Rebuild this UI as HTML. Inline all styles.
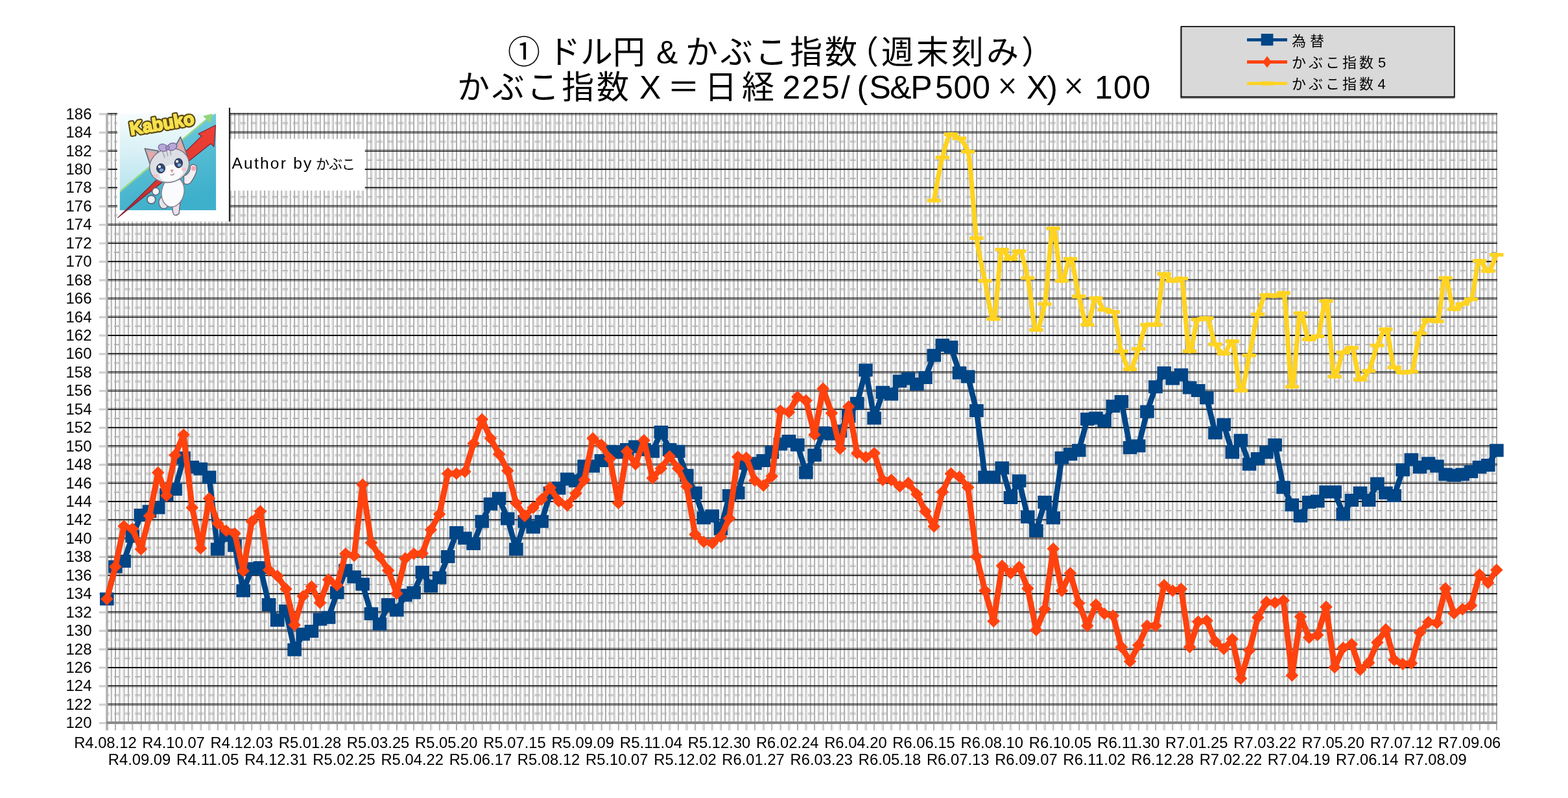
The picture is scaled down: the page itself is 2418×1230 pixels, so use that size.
<!DOCTYPE html>
<html lang="ja"><head><meta charset="utf-8"><title>ドル円 &amp; かぶこ指数</title>
<style>
html,body{margin:0;padding:0;background:#fff}
body{width:2418px;height:1230px;overflow:hidden;font-family:"Liberation Sans","Noto Sans CJK JP",sans-serif}
svg{display:block;position:absolute;left:0;top:0}
text{font-family:"Liberation Sans","Noto Sans CJK JP",sans-serif;fill:#000}
.ax{font-size:24px;fill:#1c1c1c}
.tt{font-size:50px}
.lg{font-size:22px}
</style></head><body>
<svg width="2418" height="1230" viewBox="0 0 2418 1230">
<rect width="2418" height="1230" fill="#fff"/>
<defs><filter id="soft" x="0" y="0" width="100%" height="100%" filterUnits="userSpaceOnUse" color-interpolation-filters="sRGB"><feGaussianBlur stdDeviation="0.45"/></filter></defs>
<g id="all" filter="url(#soft)">
<g id="grid">
<path d="M196 174V1113.7M226 174V1113.7M242 174V1113.7M272 174V1113.7M288 174V1113.7M318 174V1113.7M334 174V1113.7M364 174V1113.7M380 174V1113.7M410 174V1113.7M426 174V1113.7M456 174V1113.7M502 174V1113.7M548 174V1113.7M594 174V1113.7M640 174V1113.7M676 174V1113.7M686 174V1113.7M722 174V1113.7M768 174V1113.7M814 174V1113.7M860 174V1113.7M906 174V1113.7M952 174V1113.7M982 174V1113.7M998 174V1113.7M1028 174V1113.7M1044 174V1113.7M1074 174V1113.7M1090 174V1113.7M1120 174V1113.7M1136 174V1113.7M1166 174V1113.7M1212 174V1113.7M1258 174V1113.7M1304 174V1113.7M1350 174V1113.7M1386 174V1113.7M1396 174V1113.7M1432 174V1113.7M1442 174V1113.7M1478 174V1113.7M1524 174V1113.7M1570 174V1113.7M1616 174V1113.7M1662 174V1113.7M1692 174V1113.7M1708 174V1113.7M1738 174V1113.7M1754 174V1113.7M1784 174V1113.7M1800 174V1113.7M1830 174V1113.7M1846 174V1113.7M1876 174V1113.7M1922 174V1113.7M1968 174V1113.7M2014 174V1113.7M2060 174V1113.7M2106 174V1113.7M2142 174V1113.7M2152 174V1113.7M2188 174V1113.7M2234 174V1113.7M2280 174V1113.7" stroke="#a9a9a9" stroke-opacity="0.1" stroke-width="2" fill="none"/>
<path d="M170 174V1113.7M206 174V1113.7M216 174V1113.7M252 174V1113.7M262 174V1113.7M298 174V1113.7M308 174V1113.7M344 174V1113.7M354 174V1113.7M390 174V1113.7M400 174V1113.7M436 174V1113.7M446 174V1113.7M482 174V1113.7M492 174V1113.7M538 174V1113.7M584 174V1113.7M630 174V1113.7M732 174V1113.7M778 174V1113.7M824 174V1113.7M870 174V1113.7M880 174V1113.7M916 174V1113.7M926 174V1113.7M962 174V1113.7M972 174V1113.7M1008 174V1113.7M1018 174V1113.7M1054 174V1113.7M1064 174V1113.7M1100 174V1113.7M1110 174V1113.7M1146 174V1113.7M1156 174V1113.7M1192 174V1113.7M1202 174V1113.7M1248 174V1113.7M1294 174V1113.7M1340 174V1113.7M1488 174V1113.7M1534 174V1113.7M1580 174V1113.7M1626 174V1113.7M1636 174V1113.7M1672 174V1113.7M1682 174V1113.7M1718 174V1113.7M1728 174V1113.7M1764 174V1113.7M1774 174V1113.7M1810 174V1113.7M1820 174V1113.7M1856 174V1113.7M1866 174V1113.7M1902 174V1113.7M1912 174V1113.7M1948 174V1113.7M1958 174V1113.7M2004 174V1113.7M2050 174V1113.7M2096 174V1113.7M2198 174V1113.7M2244 174V1113.7M2290 174V1113.7" stroke="#a9a9a9" stroke-opacity="0.2" stroke-width="2" fill="none"/>
<path d="M186 174V1113.7M232 174V1113.7M278 174V1113.7M374 174V1113.7M420 174V1113.7M466 174V1113.7M512 174V1113.7M528 174V1113.7M558 174V1113.7M574 174V1113.7M604 174V1113.7M620 174V1113.7M650 174V1113.7M666 174V1113.7M696 174V1113.7M712 174V1113.7M742 174V1113.7M758 174V1113.7M788 174V1113.7M804 174V1113.7M834 174V1113.7M850 174V1113.7M896 174V1113.7M942 174V1113.7M988 174V1113.7M1130 174V1113.7M1176 174V1113.7M1222 174V1113.7M1238 174V1113.7M1268 174V1113.7M1284 174V1113.7M1314 174V1113.7M1330 174V1113.7M1360 174V1113.7M1376 174V1113.7M1406 174V1113.7M1422 174V1113.7M1452 174V1113.7M1468 174V1113.7M1498 174V1113.7M1514 174V1113.7M1544 174V1113.7M1560 174V1113.7M1590 174V1113.7M1606 174V1113.7M1652 174V1113.7M1698 174V1113.7M1840 174V1113.7M1886 174V1113.7M1932 174V1113.7M1978 174V1113.7M1994 174V1113.7M2024 174V1113.7M2040 174V1113.7M2070 174V1113.7M2086 174V1113.7M2116 174V1113.7M2132 174V1113.7M2162 174V1113.7M2178 174V1113.7M2208 174V1113.7M2224 174V1113.7M2254 174V1113.7M2270 174V1113.7M2300 174V1113.7" stroke="#a9a9a9" stroke-opacity="0.3" stroke-width="2" fill="none"/>
<path d="M190 174V1113.7M236 174V1113.7M282 174V1113.7M324 174V1113.7M328 174V1113.7M370 174V1113.7M416 174V1113.7M462 174V1113.7M508 174V1113.7M554 174V1113.7M578 174V1113.7M600 174V1113.7M624 174V1113.7M646 174V1113.7M670 174V1113.7M692 174V1113.7M716 174V1113.7M738 174V1113.7M762 174V1113.7M784 174V1113.7M808 174V1113.7M854 174V1113.7M900 174V1113.7M946 174V1113.7M992 174V1113.7M1034 174V1113.7M1038 174V1113.7M1080 174V1113.7M1084 174V1113.7M1126 174V1113.7M1172 174V1113.7M1218 174V1113.7M1264 174V1113.7M1310 174V1113.7M1334 174V1113.7M1356 174V1113.7M1380 174V1113.7M1402 174V1113.7M1426 174V1113.7M1448 174V1113.7M1472 174V1113.7M1494 174V1113.7M1518 174V1113.7M1564 174V1113.7M1610 174V1113.7M1656 174V1113.7M1702 174V1113.7M1744 174V1113.7M1748 174V1113.7M1790 174V1113.7M1794 174V1113.7M1836 174V1113.7M1882 174V1113.7M1928 174V1113.7M1974 174V1113.7M2020 174V1113.7M2044 174V1113.7M2066 174V1113.7M2090 174V1113.7M2112 174V1113.7M2136 174V1113.7M2158 174V1113.7M2182 174V1113.7M2204 174V1113.7M2228 174V1113.7M2250 174V1113.7M2274 174V1113.7" stroke="#a9a9a9" stroke-opacity="0.4" stroke-width="2" fill="none"/>
<path d="M164 174V1113.7M166 174V1113.7M210 174V1113.7M212 174V1113.7M256 174V1113.7M258 174V1113.7M302 174V1113.7M304 174V1113.7M348 174V1113.7M350 174V1113.7M394 174V1113.7M396 174V1113.7M440 174V1113.7M442 174V1113.7M486 174V1113.7M488 174V1113.7M532 174V1113.7M534 174V1113.7M828 174V1113.7M830 174V1113.7M874 174V1113.7M876 174V1113.7M920 174V1113.7M922 174V1113.7M966 174V1113.7M968 174V1113.7M1012 174V1113.7M1014 174V1113.7M1058 174V1113.7M1060 174V1113.7M1104 174V1113.7M1106 174V1113.7M1150 174V1113.7M1152 174V1113.7M1196 174V1113.7M1198 174V1113.7M1242 174V1113.7M1244 174V1113.7M1288 174V1113.7M1290 174V1113.7M1538 174V1113.7M1540 174V1113.7M1584 174V1113.7M1586 174V1113.7M1630 174V1113.7M1632 174V1113.7M1676 174V1113.7M1678 174V1113.7M1722 174V1113.7M1724 174V1113.7M1768 174V1113.7M1770 174V1113.7M1814 174V1113.7M1816 174V1113.7M1860 174V1113.7M1862 174V1113.7M1906 174V1113.7M1908 174V1113.7M1952 174V1113.7M1954 174V1113.7M1998 174V1113.7M2000 174V1113.7M2294 174V1113.7M2296 174V1113.7" stroke="#a9a9a9" stroke-opacity="0.5" stroke-width="2" fill="none"/>
<path d="M192 174V1113.7M238 174V1113.7M284 174V1113.7M322 174V1113.7M330 174V1113.7M368 174V1113.7M414 174V1113.7M460 174V1113.7M506 174V1113.7M552 174V1113.7M580 174V1113.7M598 174V1113.7M626 174V1113.7M644 174V1113.7M672 174V1113.7M690 174V1113.7M718 174V1113.7M736 174V1113.7M764 174V1113.7M782 174V1113.7M810 174V1113.7M856 174V1113.7M902 174V1113.7M948 174V1113.7M994 174V1113.7M1032 174V1113.7M1040 174V1113.7M1078 174V1113.7M1086 174V1113.7M1124 174V1113.7M1170 174V1113.7M1216 174V1113.7M1262 174V1113.7M1308 174V1113.7M1336 174V1113.7M1354 174V1113.7M1382 174V1113.7M1400 174V1113.7M1428 174V1113.7M1446 174V1113.7M1474 174V1113.7M1492 174V1113.7M1520 174V1113.7M1566 174V1113.7M1612 174V1113.7M1658 174V1113.7M1704 174V1113.7M1742 174V1113.7M1750 174V1113.7M1788 174V1113.7M1796 174V1113.7M1834 174V1113.7M1880 174V1113.7M1926 174V1113.7M1972 174V1113.7M2018 174V1113.7M2046 174V1113.7M2064 174V1113.7M2092 174V1113.7M2110 174V1113.7M2138 174V1113.7M2156 174V1113.7M2184 174V1113.7M2202 174V1113.7M2230 174V1113.7M2248 174V1113.7M2276 174V1113.7" stroke="#a9a9a9" stroke-opacity="0.6" stroke-width="2" fill="none"/>
<path d="M184 174V1113.7M230 174V1113.7M276 174V1113.7M376 174V1113.7M422 174V1113.7M468 174V1113.7M514 174V1113.7M526 174V1113.7M560 174V1113.7M572 174V1113.7M606 174V1113.7M618 174V1113.7M652 174V1113.7M664 174V1113.7M698 174V1113.7M710 174V1113.7M744 174V1113.7M756 174V1113.7M790 174V1113.7M802 174V1113.7M836 174V1113.7M848 174V1113.7M894 174V1113.7M940 174V1113.7M986 174V1113.7M1132 174V1113.7M1178 174V1113.7M1224 174V1113.7M1236 174V1113.7M1270 174V1113.7M1282 174V1113.7M1316 174V1113.7M1328 174V1113.7M1362 174V1113.7M1374 174V1113.7M1408 174V1113.7M1420 174V1113.7M1454 174V1113.7M1466 174V1113.7M1500 174V1113.7M1512 174V1113.7M1546 174V1113.7M1558 174V1113.7M1592 174V1113.7M1604 174V1113.7M1650 174V1113.7M1696 174V1113.7M1842 174V1113.7M1888 174V1113.7M1934 174V1113.7M1980 174V1113.7M1992 174V1113.7M2026 174V1113.7M2038 174V1113.7M2072 174V1113.7M2084 174V1113.7M2118 174V1113.7M2130 174V1113.7M2164 174V1113.7M2176 174V1113.7M2210 174V1113.7M2222 174V1113.7M2256 174V1113.7M2268 174V1113.7M2302 174V1113.7" stroke="#a9a9a9" stroke-opacity="0.7" stroke-width="2" fill="none"/>
<path d="M172 174V1113.7M204 174V1113.7M218 174V1113.7M250 174V1113.7M264 174V1113.7M296 174V1113.7M310 174V1113.7M342 174V1113.7M356 174V1113.7M388 174V1113.7M402 174V1113.7M434 174V1113.7M448 174V1113.7M480 174V1113.7M494 174V1113.7M540 174V1113.7M586 174V1113.7M632 174V1113.7M730 174V1113.7M776 174V1113.7M822 174V1113.7M868 174V1113.7M882 174V1113.7M914 174V1113.7M928 174V1113.7M960 174V1113.7M974 174V1113.7M1006 174V1113.7M1020 174V1113.7M1052 174V1113.7M1066 174V1113.7M1098 174V1113.7M1112 174V1113.7M1144 174V1113.7M1158 174V1113.7M1190 174V1113.7M1204 174V1113.7M1250 174V1113.7M1296 174V1113.7M1342 174V1113.7M1486 174V1113.7M1532 174V1113.7M1578 174V1113.7M1624 174V1113.7M1638 174V1113.7M1670 174V1113.7M1684 174V1113.7M1716 174V1113.7M1730 174V1113.7M1762 174V1113.7M1776 174V1113.7M1808 174V1113.7M1822 174V1113.7M1854 174V1113.7M1868 174V1113.7M1900 174V1113.7M1914 174V1113.7M1946 174V1113.7M1960 174V1113.7M2006 174V1113.7M2052 174V1113.7M2098 174V1113.7M2196 174V1113.7M2242 174V1113.7M2288 174V1113.7" stroke="#a9a9a9" stroke-opacity="0.8" stroke-width="2" fill="none"/>
<path d="M198 174V1113.7M224 174V1113.7M244 174V1113.7M270 174V1113.7M290 174V1113.7M316 174V1113.7M336 174V1113.7M362 174V1113.7M382 174V1113.7M408 174V1113.7M428 174V1113.7M454 174V1113.7M500 174V1113.7M546 174V1113.7M592 174V1113.7M638 174V1113.7M678 174V1113.7M684 174V1113.7M724 174V1113.7M770 174V1113.7M816 174V1113.7M862 174V1113.7M908 174V1113.7M954 174V1113.7M980 174V1113.7M1000 174V1113.7M1026 174V1113.7M1046 174V1113.7M1072 174V1113.7M1092 174V1113.7M1118 174V1113.7M1138 174V1113.7M1164 174V1113.7M1210 174V1113.7M1256 174V1113.7M1302 174V1113.7M1348 174V1113.7M1388 174V1113.7M1394 174V1113.7M1434 174V1113.7M1440 174V1113.7M1480 174V1113.7M1526 174V1113.7M1572 174V1113.7M1618 174V1113.7M1664 174V1113.7M1690 174V1113.7M1710 174V1113.7M1736 174V1113.7M1756 174V1113.7M1782 174V1113.7M1802 174V1113.7M1828 174V1113.7M1848 174V1113.7M1874 174V1113.7M1920 174V1113.7M1966 174V1113.7M2012 174V1113.7M2058 174V1113.7M2104 174V1113.7M2144 174V1113.7M2150 174V1113.7M2190 174V1113.7M2236 174V1113.7M2282 174V1113.7" stroke="#a9a9a9" stroke-opacity="0.9" stroke-width="2" fill="none"/>
<path d="M178 174V1113.7M474 174V1113.7M520 174V1113.7M566 174V1113.7M612 174V1113.7M658 174V1113.7M704 174V1113.7M750 174V1113.7M796 174V1113.7M842 174V1113.7M888 174V1113.7M934 174V1113.7M1184 174V1113.7M1230 174V1113.7M1276 174V1113.7M1322 174V1113.7M1368 174V1113.7M1414 174V1113.7M1460 174V1113.7M1506 174V1113.7M1552 174V1113.7M1598 174V1113.7M1644 174V1113.7M1894 174V1113.7M1940 174V1113.7M1986 174V1113.7M2032 174V1113.7M2078 174V1113.7M2124 174V1113.7M2170 174V1113.7M2216 174V1113.7M2262 174V1113.7M2308 174V1113.7" stroke="#a9a9a9" stroke-opacity="1.0" stroke-width="2" fill="none"/>
<path d="M164.8 1045H2307.9M164.8 789H2307.9M164.8 533H2307.9M164.8 277H2307.9" stroke="#b0b0b0" stroke-opacity="0.1" stroke-width="2" stroke-dasharray="9 7.215" stroke-dashoffset="5.3" fill="none"/>
<path d="M164.8 1013H2307.9M164.8 931H2307.9M164.8 757H2307.9M164.8 675H2307.9M164.8 501H2307.9M164.8 419H2307.9M164.8 245H2307.9" stroke="#b0b0b0" stroke-opacity="0.2" stroke-width="2" stroke-dasharray="9 7.215" stroke-dashoffset="5.3" fill="none"/>
<path d="M164.8 1073H2307.9M164.8 871H2307.9M164.8 817H2307.9M164.8 615H2307.9M164.8 561H2307.9M164.8 359H2307.9M164.8 305H2307.9" stroke="#b0b0b0" stroke-opacity="0.3" stroke-width="2" stroke-dasharray="9 7.215" stroke-dashoffset="5.3" fill="none"/>
<path d="M164.8 985H2307.9M164.8 959H2307.9M164.8 729H2307.9M164.8 703H2307.9M164.8 473H2307.9M164.8 447H2307.9M164.8 217H2307.9M164.8 191H2307.9" stroke="#b0b0b0" stroke-opacity="0.4" stroke-width="2" stroke-dasharray="9 7.215" stroke-dashoffset="5.3" fill="none"/>
<path d="M164.8 1099H2307.9M164.8 1101H2307.9M164.8 843H2307.9M164.8 845H2307.9M164.8 587H2307.9M164.8 589H2307.9M164.8 331H2307.9M164.8 333H2307.9" stroke="#b0b0b0" stroke-opacity="0.5" stroke-width="2" stroke-dasharray="9 7.215" stroke-dashoffset="5.3" fill="none"/>
<path d="M164.8 987H2307.9M164.8 957H2307.9M164.8 731H2307.9M164.8 701H2307.9M164.8 475H2307.9M164.8 445H2307.9M164.8 219H2307.9M164.8 189H2307.9" stroke="#b0b0b0" stroke-opacity="0.6" stroke-width="2" stroke-dasharray="9 7.215" stroke-dashoffset="5.3" fill="none"/>
<path d="M164.8 1071H2307.9M164.8 873H2307.9M164.8 815H2307.9M164.8 617H2307.9M164.8 559H2307.9M164.8 361H2307.9M164.8 303H2307.9" stroke="#b0b0b0" stroke-opacity="0.7" stroke-width="2" stroke-dasharray="9 7.215" stroke-dashoffset="5.3" fill="none"/>
<path d="M164.8 1015H2307.9M164.8 929H2307.9M164.8 759H2307.9M164.8 673H2307.9M164.8 503H2307.9M164.8 417H2307.9M164.8 247H2307.9" stroke="#b0b0b0" stroke-opacity="0.8" stroke-width="2" stroke-dasharray="9 7.215" stroke-dashoffset="5.3" fill="none"/>
<path d="M164.8 1043H2307.9M164.8 787H2307.9M164.8 531H2307.9M164.8 275H2307.9" stroke="#b0b0b0" stroke-opacity="0.9" stroke-width="2" stroke-dasharray="9 7.215" stroke-dashoffset="5.3" fill="none"/>
<path d="M164.8 901H2307.9M164.8 645H2307.9M164.8 389H2307.9" stroke="#b0b0b0" stroke-opacity="1.0" stroke-width="2" stroke-dasharray="9 7.215" stroke-dashoffset="5.3" fill="none"/>
<path d="M165 174V1125.7" stroke="#b4b4b4" stroke-width="3.4" fill="none"/>
<path d="M166.3 917H2308.9M166.3 661H2308.9M166.3 405H2308.9M166.3 259H2308.9" stroke="#0c0c0c" stroke-opacity="0.1" stroke-width="2" fill="none"/>
<path d="M166.3 1059H2308.9M166.3 885H2308.9M166.3 803H2308.9M166.3 629H2308.9M166.3 547H2308.9M166.3 373H2308.9M166.3 291H2308.9" stroke="#0c0c0c" stroke-opacity="0.2" stroke-width="2" fill="none"/>
<path d="M166.3 999H2308.9M166.3 945H2308.9M166.3 743H2308.9M166.3 689H2308.9M166.3 487H2308.9M166.3 433H2308.9M166.3 231H2308.9M166.3 177H2308.9" stroke="#0c0c0c" stroke-opacity="0.3" stroke-width="2" fill="none"/>
<path d="M166.3 1087H2308.9M166.3 857H2308.9M166.3 831H2308.9M166.3 601H2308.9M166.3 575H2308.9M166.3 345H2308.9M166.3 319H2308.9" stroke="#0c0c0c" stroke-opacity="0.4" stroke-width="2" fill="none"/>
<path d="M166.3 971H2308.9M166.3 973H2308.9M166.3 715H2308.9M166.3 717H2308.9M166.3 459H2308.9M166.3 461H2308.9M166.3 203H2308.9M166.3 205H2308.9" stroke="#0c0c0c" stroke-opacity="0.5" stroke-width="2" fill="none"/>
<path d="M166.3 1085H2308.9M166.3 859H2308.9M166.3 829H2308.9M166.3 603H2308.9M166.3 573H2308.9M166.3 347H2308.9M166.3 317H2308.9" stroke="#0c0c0c" stroke-opacity="0.6" stroke-width="2" fill="none"/>
<path d="M166.3 1001H2308.9M166.3 943H2308.9M166.3 745H2308.9M166.3 687H2308.9M166.3 489H2308.9M166.3 431H2308.9M166.3 233H2308.9M166.3 175H2308.9" stroke="#0c0c0c" stroke-opacity="0.7" stroke-width="2" fill="none"/>
<path d="M166.3 1057H2308.9M166.3 887H2308.9M166.3 801H2308.9M166.3 631H2308.9M166.3 545H2308.9M166.3 375H2308.9M166.3 289H2308.9" stroke="#0c0c0c" stroke-opacity="0.8" stroke-width="2" fill="none"/>
<path d="M166.3 915H2308.9M166.3 659H2308.9M166.3 403H2308.9M166.3 261H2308.9" stroke="#0c0c0c" stroke-opacity="0.9" stroke-width="2" fill="none"/>
<path d="M166.3 1029H2308.9M166.3 773H2308.9M166.3 517H2308.9" stroke="#0c0c0c" stroke-opacity="1.0" stroke-width="2" fill="none"/>
<path d="M152.8 1114.5H163.8M152.8 1086.1H163.8M152.8 1057.7H163.8M152.8 1029.2H163.8M152.8 1000.8H163.8M152.8 972.3H163.8M152.8 943.9H163.8M152.8 915.4H163.8M152.8 887H163.8M152.8 858.5H163.8M152.8 830.1H163.8M152.8 801.7H163.8M152.8 773.2H163.8M152.8 744.8H163.8M152.8 716.3H163.8M152.8 687.9H163.8M152.8 659.4H163.8M152.8 631H163.8M152.8 602.5H163.8M152.8 574.1H163.8M152.8 545.6H163.8M152.8 517.2H163.8M152.8 488.8H163.8M152.8 460.3H163.8M152.8 431.9H163.8M152.8 403.4H163.8M152.8 375H163.8M152.8 346.5H163.8M152.8 318.1H163.8M152.8 289.6H163.8M152.8 261.2H163.8M152.8 232.8H163.8M152.8 204.3H163.8M152.8 175.9H163.8" stroke="#cfcfcf" stroke-width="3.2" fill="none"/>
<path d="M163.8 1114H2308.9" stroke="#8a8a8a" stroke-width="3.8" fill="none"/>
<path d="M242 1115.7V1125.7M272 1115.7V1125.7M334 1115.7V1125.7M364 1115.7V1125.7M426 1115.7V1125.7M456 1115.7V1125.7M548 1115.7V1125.7M640 1115.7V1125.7M676 1115.7V1125.7M768 1115.7V1125.7M860 1115.7V1125.7M952 1115.7V1125.7M982 1115.7V1125.7M1044 1115.7V1125.7M1074 1115.7V1125.7M1136 1115.7V1125.7M1166 1115.7V1125.7M1258 1115.7V1125.7M1350 1115.7V1125.7M1386 1115.7V1125.7M1442 1115.7V1125.7M1478 1115.7V1125.7M1570 1115.7V1125.7M1662 1115.7V1125.7M1692 1115.7V1125.7M1754 1115.7V1125.7M1784 1115.7V1125.7M1846 1115.7V1125.7M1876 1115.7V1125.7M1968 1115.7V1125.7M2060 1115.7V1125.7M2152 1115.7V1125.7M2188 1115.7V1125.7M2280 1115.7V1125.7" stroke="#b0b0b0" stroke-opacity="0.1" stroke-width="2" fill="none"/>
<path d="M206 1115.7V1125.7M216 1115.7V1125.7M298 1115.7V1125.7M308 1115.7V1125.7M390 1115.7V1125.7M400 1115.7V1125.7M482 1115.7V1125.7M492 1115.7V1125.7M584 1115.7V1125.7M732 1115.7V1125.7M824 1115.7V1125.7M916 1115.7V1125.7M926 1115.7V1125.7M1008 1115.7V1125.7M1018 1115.7V1125.7M1100 1115.7V1125.7M1110 1115.7V1125.7M1192 1115.7V1125.7M1202 1115.7V1125.7M1294 1115.7V1125.7M1534 1115.7V1125.7M1626 1115.7V1125.7M1636 1115.7V1125.7M1718 1115.7V1125.7M1728 1115.7V1125.7M1810 1115.7V1125.7M1820 1115.7V1125.7M1902 1115.7V1125.7M1912 1115.7V1125.7M2004 1115.7V1125.7M2096 1115.7V1125.7M2244 1115.7V1125.7" stroke="#b0b0b0" stroke-opacity="0.2" stroke-width="2" fill="none"/>
<path d="M232 1115.7V1125.7M374 1115.7V1125.7M466 1115.7V1125.7M558 1115.7V1125.7M574 1115.7V1125.7M650 1115.7V1125.7M666 1115.7V1125.7M742 1115.7V1125.7M758 1115.7V1125.7M834 1115.7V1125.7M850 1115.7V1125.7M942 1115.7V1125.7M1176 1115.7V1125.7M1268 1115.7V1125.7M1284 1115.7V1125.7M1360 1115.7V1125.7M1376 1115.7V1125.7M1452 1115.7V1125.7M1468 1115.7V1125.7M1544 1115.7V1125.7M1560 1115.7V1125.7M1652 1115.7V1125.7M1886 1115.7V1125.7M1978 1115.7V1125.7M1994 1115.7V1125.7M2070 1115.7V1125.7M2086 1115.7V1125.7M2162 1115.7V1125.7M2178 1115.7V1125.7M2254 1115.7V1125.7M2270 1115.7V1125.7" stroke="#b0b0b0" stroke-opacity="0.3" stroke-width="2" fill="none"/>
<path d="M190 1115.7V1125.7M282 1115.7V1125.7M324 1115.7V1125.7M416 1115.7V1125.7M508 1115.7V1125.7M600 1115.7V1125.7M624 1115.7V1125.7M692 1115.7V1125.7M716 1115.7V1125.7M784 1115.7V1125.7M808 1115.7V1125.7M900 1115.7V1125.7M992 1115.7V1125.7M1034 1115.7V1125.7M1084 1115.7V1125.7M1126 1115.7V1125.7M1218 1115.7V1125.7M1310 1115.7V1125.7M1334 1115.7V1125.7M1402 1115.7V1125.7M1426 1115.7V1125.7M1494 1115.7V1125.7M1518 1115.7V1125.7M1610 1115.7V1125.7M1702 1115.7V1125.7M1744 1115.7V1125.7M1794 1115.7V1125.7M1836 1115.7V1125.7M1928 1115.7V1125.7M2020 1115.7V1125.7M2044 1115.7V1125.7M2112 1115.7V1125.7M2136 1115.7V1125.7M2204 1115.7V1125.7M2228 1115.7V1125.7" stroke="#b0b0b0" stroke-opacity="0.4" stroke-width="2" fill="none"/>
<path d="M164 1115.7V1125.7M166 1115.7V1125.7M256 1115.7V1125.7M258 1115.7V1125.7M348 1115.7V1125.7M350 1115.7V1125.7M440 1115.7V1125.7M442 1115.7V1125.7M532 1115.7V1125.7M534 1115.7V1125.7M874 1115.7V1125.7M876 1115.7V1125.7M966 1115.7V1125.7M968 1115.7V1125.7M1058 1115.7V1125.7M1060 1115.7V1125.7M1150 1115.7V1125.7M1152 1115.7V1125.7M1242 1115.7V1125.7M1244 1115.7V1125.7M1584 1115.7V1125.7M1586 1115.7V1125.7M1676 1115.7V1125.7M1678 1115.7V1125.7M1768 1115.7V1125.7M1770 1115.7V1125.7M1860 1115.7V1125.7M1862 1115.7V1125.7M1952 1115.7V1125.7M1954 1115.7V1125.7M2294 1115.7V1125.7M2296 1115.7V1125.7" stroke="#b0b0b0" stroke-opacity="0.5" stroke-width="2" fill="none"/>
<path d="M192 1115.7V1125.7M284 1115.7V1125.7M322 1115.7V1125.7M414 1115.7V1125.7M506 1115.7V1125.7M598 1115.7V1125.7M626 1115.7V1125.7M690 1115.7V1125.7M718 1115.7V1125.7M782 1115.7V1125.7M810 1115.7V1125.7M902 1115.7V1125.7M994 1115.7V1125.7M1032 1115.7V1125.7M1086 1115.7V1125.7M1124 1115.7V1125.7M1216 1115.7V1125.7M1308 1115.7V1125.7M1336 1115.7V1125.7M1400 1115.7V1125.7M1428 1115.7V1125.7M1492 1115.7V1125.7M1520 1115.7V1125.7M1612 1115.7V1125.7M1704 1115.7V1125.7M1742 1115.7V1125.7M1796 1115.7V1125.7M1834 1115.7V1125.7M1926 1115.7V1125.7M2018 1115.7V1125.7M2046 1115.7V1125.7M2110 1115.7V1125.7M2138 1115.7V1125.7M2202 1115.7V1125.7M2230 1115.7V1125.7" stroke="#b0b0b0" stroke-opacity="0.6" stroke-width="2" fill="none"/>
<path d="M230 1115.7V1125.7M376 1115.7V1125.7M468 1115.7V1125.7M560 1115.7V1125.7M572 1115.7V1125.7M652 1115.7V1125.7M664 1115.7V1125.7M744 1115.7V1125.7M756 1115.7V1125.7M836 1115.7V1125.7M848 1115.7V1125.7M940 1115.7V1125.7M1178 1115.7V1125.7M1270 1115.7V1125.7M1282 1115.7V1125.7M1362 1115.7V1125.7M1374 1115.7V1125.7M1454 1115.7V1125.7M1466 1115.7V1125.7M1546 1115.7V1125.7M1558 1115.7V1125.7M1650 1115.7V1125.7M1888 1115.7V1125.7M1980 1115.7V1125.7M1992 1115.7V1125.7M2072 1115.7V1125.7M2084 1115.7V1125.7M2164 1115.7V1125.7M2176 1115.7V1125.7M2256 1115.7V1125.7M2268 1115.7V1125.7" stroke="#b0b0b0" stroke-opacity="0.7" stroke-width="2" fill="none"/>
<path d="M204 1115.7V1125.7M218 1115.7V1125.7M296 1115.7V1125.7M310 1115.7V1125.7M388 1115.7V1125.7M402 1115.7V1125.7M480 1115.7V1125.7M494 1115.7V1125.7M586 1115.7V1125.7M730 1115.7V1125.7M822 1115.7V1125.7M914 1115.7V1125.7M928 1115.7V1125.7M1006 1115.7V1125.7M1020 1115.7V1125.7M1098 1115.7V1125.7M1112 1115.7V1125.7M1190 1115.7V1125.7M1204 1115.7V1125.7M1296 1115.7V1125.7M1532 1115.7V1125.7M1624 1115.7V1125.7M1638 1115.7V1125.7M1716 1115.7V1125.7M1730 1115.7V1125.7M1808 1115.7V1125.7M1822 1115.7V1125.7M1900 1115.7V1125.7M1914 1115.7V1125.7M2006 1115.7V1125.7M2098 1115.7V1125.7M2242 1115.7V1125.7" stroke="#b0b0b0" stroke-opacity="0.8" stroke-width="2" fill="none"/>
<path d="M244 1115.7V1125.7M270 1115.7V1125.7M336 1115.7V1125.7M362 1115.7V1125.7M428 1115.7V1125.7M454 1115.7V1125.7M546 1115.7V1125.7M638 1115.7V1125.7M678 1115.7V1125.7M770 1115.7V1125.7M862 1115.7V1125.7M954 1115.7V1125.7M980 1115.7V1125.7M1046 1115.7V1125.7M1072 1115.7V1125.7M1138 1115.7V1125.7M1164 1115.7V1125.7M1256 1115.7V1125.7M1348 1115.7V1125.7M1388 1115.7V1125.7M1440 1115.7V1125.7M1480 1115.7V1125.7M1572 1115.7V1125.7M1664 1115.7V1125.7M1690 1115.7V1125.7M1756 1115.7V1125.7M1782 1115.7V1125.7M1848 1115.7V1125.7M1874 1115.7V1125.7M1966 1115.7V1125.7M2058 1115.7V1125.7M2150 1115.7V1125.7M2190 1115.7V1125.7M2282 1115.7V1125.7" stroke="#b0b0b0" stroke-opacity="0.9" stroke-width="2" fill="none"/>
<path d="M178 1115.7V1125.7M520 1115.7V1125.7M612 1115.7V1125.7M704 1115.7V1125.7M796 1115.7V1125.7M888 1115.7V1125.7M1230 1115.7V1125.7M1322 1115.7V1125.7M1414 1115.7V1125.7M1506 1115.7V1125.7M1598 1115.7V1125.7M1940 1115.7V1125.7M2032 1115.7V1125.7M2124 1115.7V1125.7M2216 1115.7V1125.7M2308 1115.7V1125.7" stroke="#b0b0b0" stroke-opacity="1.0" stroke-width="2" fill="none"/>
</g>
<g id="series" fill="none" stroke-linejoin="round" stroke-linecap="round">
<polyline points="164.8,923.3 177.9,873.5 191.1,865 204.2,826.6 217.4,793.9 230.5,788.2 243.7,782.5 256.8,762.6 270,754.1 283.1,705.7 296.3,719.9 309.4,722.8 322.6,735.6 335.7,846.5 348.9,825.2 362,840.8 375.2,910.5 388.3,876.4 401.5,875 414.6,931.9 427.8,956.1 440.9,941.8 454.1,1001.6 467.2,977.4 480.4,973.1 493.5,954.6 506.6,951.8 519.8,913.4 532.9,879.2 546.1,889.2 559.2,900.6 572.4,946.1 585.5,961.7 598.7,931.9 611.8,940.4 625,917.6 638.1,913.4 651.3,882.1 664.4,903.4 677.6,890.6 690.7,857.9 703.9,820.9 717,829.5 730.2,838 743.3,803.8 756.5,776.8 769.6,768.3 782.8,799.6 795.9,846.5 809.1,803.8 822.2,812.4 835.3,803.8 848.5,759.7 861.6,752.6 874.8,738.4 887.9,741.3 901.1,718.5 914.2,718.5 927.4,710 940.5,695.7 953.7,697.2 966.8,692.9 980,688.6 993.1,692.9 1006.3,695.7 1019.4,665.9 1032.6,692.9 1045.7,695.7 1058.9,732.7 1072,759.7 1085.2,798.2 1098.3,795.3 1111.5,815.2 1124.6,764 1137.8,759.7 1150.9,714.2 1164,714.2 1177.2,710 1190.3,697.2 1203.5,684.4 1216.6,680.1 1229.8,685.8 1242.9,728.5 1256.1,701.4 1269.2,667.3 1282.4,668.7 1295.5,664.4 1308.7,641.7 1321.8,621.8 1335,570.6 1348.1,644.5 1361.3,604.7 1374.4,607.5 1387.6,587.6 1400.7,583.4 1413.9,591.9 1427,581.9 1440.2,547.8 1453.3,532.1 1466.5,535 1479.6,574.8 1492.7,580.5 1505.9,633.1 1519,735.6 1532.2,735.6 1545.3,721.3 1558.5,766.9 1571.6,741.3 1584.8,796.7 1597.9,818.1 1611.1,774 1624.2,798.2 1637.4,705.7 1650.5,700 1663.7,694.3 1676.8,645.9 1690,644.5 1703.1,648.8 1716.3,626 1729.4,618.9 1742.6,690 1755.7,687.2 1768.9,634.6 1782,596.2 1795.2,574.8 1808.3,583.4 1821.4,577.7 1834.6,597.6 1847.7,601.9 1860.9,613.2 1874,667.3 1887.2,654.5 1900.3,697.2 1913.5,678.7 1926.6,715.6 1939.8,707.1 1952.9,697.2 1966.1,685.8 1979.2,751.2 1992.4,778.2 2005.5,795.3 2018.7,774 2031.8,772.5 2045,758.3 2058.1,758.3 2071.3,792.5 2084.4,771.1 2097.6,759.7 2110.7,771.1 2123.9,745.5 2137,759.7 2150.1,764 2163.3,724.2 2176.4,708.5 2189.6,719.9 2202.7,714.2 2215.9,718.5 2229,731.3 2242.2,732.7 2255.3,731.3 2268.5,727 2281.6,719.9 2294.8,717.1 2307.9,694.3" stroke="#004586" stroke-width="8.6"/>
<path d="M154 913.3h21.6v20h-21.6zM167.1 863.5h21.6v20h-21.6zM180.3 855h21.6v20h-21.6zM193.4 816.6h21.6v20h-21.6zM206.6 783.9h21.6v20h-21.6zM219.7 778.2h21.6v20h-21.6zM232.9 772.5h21.6v20h-21.6zM246 752.6h21.6v20h-21.6zM259.2 744.1h21.6v20h-21.6zM272.3 695.7h21.6v20h-21.6zM285.5 709.9h21.6v20h-21.6zM298.6 712.8h21.6v20h-21.6zM311.8 725.6h21.6v20h-21.6zM324.9 836.5h21.6v20h-21.6zM338.1 815.2h21.6v20h-21.6zM351.2 830.8h21.6v20h-21.6zM364.4 900.5h21.6v20h-21.6zM377.5 866.4h21.6v20h-21.6zM390.7 865h21.6v20h-21.6zM403.8 921.9h21.6v20h-21.6zM417 946.1h21.6v20h-21.6zM430.1 931.8h21.6v20h-21.6zM443.3 991.6h21.6v20h-21.6zM456.4 967.4h21.6v20h-21.6zM469.6 963.1h21.6v20h-21.6zM482.7 944.6h21.6v20h-21.6zM495.8 941.8h21.6v20h-21.6zM509 903.4h21.6v20h-21.6zM522.1 869.2h21.6v20h-21.6zM535.3 879.2h21.6v20h-21.6zM548.4 890.6h21.6v20h-21.6zM561.6 936.1h21.6v20h-21.6zM574.7 951.7h21.6v20h-21.6zM587.9 921.9h21.6v20h-21.6zM601 930.4h21.6v20h-21.6zM614.2 907.6h21.6v20h-21.6zM627.3 903.4h21.6v20h-21.6zM640.5 872.1h21.6v20h-21.6zM653.6 893.4h21.6v20h-21.6zM666.8 880.6h21.6v20h-21.6zM679.9 847.9h21.6v20h-21.6zM693.1 810.9h21.6v20h-21.6zM706.2 819.5h21.6v20h-21.6zM719.4 828h21.6v20h-21.6zM732.5 793.8h21.6v20h-21.6zM745.7 766.8h21.6v20h-21.6zM758.8 758.3h21.6v20h-21.6zM772 789.6h21.6v20h-21.6zM785.1 836.5h21.6v20h-21.6zM798.3 793.8h21.6v20h-21.6zM811.4 802.4h21.6v20h-21.6zM824.5 793.8h21.6v20h-21.6zM837.7 749.7h21.6v20h-21.6zM850.8 742.6h21.6v20h-21.6zM864 728.4h21.6v20h-21.6zM877.1 731.3h21.6v20h-21.6zM890.3 708.5h21.6v20h-21.6zM903.4 708.5h21.6v20h-21.6zM916.6 700h21.6v20h-21.6zM929.7 685.7h21.6v20h-21.6zM942.9 687.2h21.6v20h-21.6zM956 682.9h21.6v20h-21.6zM969.2 678.6h21.6v20h-21.6zM982.3 682.9h21.6v20h-21.6zM995.5 685.7h21.6v20h-21.6zM1008.6 655.9h21.6v20h-21.6zM1021.8 682.9h21.6v20h-21.6zM1034.9 685.7h21.6v20h-21.6zM1048.1 722.7h21.6v20h-21.6zM1061.2 749.7h21.6v20h-21.6zM1074.4 788.2h21.6v20h-21.6zM1087.5 785.3h21.6v20h-21.6zM1100.7 805.2h21.6v20h-21.6zM1113.8 754h21.6v20h-21.6zM1127 749.7h21.6v20h-21.6zM1140.1 704.2h21.6v20h-21.6zM1153.2 704.2h21.6v20h-21.6zM1166.4 700h21.6v20h-21.6zM1179.5 687.2h21.6v20h-21.6zM1192.7 674.4h21.6v20h-21.6zM1205.8 670.1h21.6v20h-21.6zM1219 675.8h21.6v20h-21.6zM1232.1 718.5h21.6v20h-21.6zM1245.3 691.4h21.6v20h-21.6zM1258.4 657.3h21.6v20h-21.6zM1271.6 658.7h21.6v20h-21.6zM1284.7 654.4h21.6v20h-21.6zM1297.9 631.7h21.6v20h-21.6zM1311 611.8h21.6v20h-21.6zM1324.2 560.6h21.6v20h-21.6zM1337.3 634.5h21.6v20h-21.6zM1350.5 594.7h21.6v20h-21.6zM1363.6 597.5h21.6v20h-21.6zM1376.8 577.6h21.6v20h-21.6zM1389.9 573.4h21.6v20h-21.6zM1403.1 581.9h21.6v20h-21.6zM1416.2 571.9h21.6v20h-21.6zM1429.4 537.8h21.6v20h-21.6zM1442.5 522.1h21.6v20h-21.6zM1455.7 525h21.6v20h-21.6zM1468.8 564.8h21.6v20h-21.6zM1481.9 570.5h21.6v20h-21.6zM1495.1 623.1h21.6v20h-21.6zM1508.2 725.6h21.6v20h-21.6zM1521.4 725.6h21.6v20h-21.6zM1534.5 711.3h21.6v20h-21.6zM1547.7 756.9h21.6v20h-21.6zM1560.8 731.3h21.6v20h-21.6zM1574 786.7h21.6v20h-21.6zM1587.1 808.1h21.6v20h-21.6zM1600.3 764h21.6v20h-21.6zM1613.4 788.2h21.6v20h-21.6zM1626.6 695.7h21.6v20h-21.6zM1639.7 690h21.6v20h-21.6zM1652.9 684.3h21.6v20h-21.6zM1666 635.9h21.6v20h-21.6zM1679.2 634.5h21.6v20h-21.6zM1692.3 638.8h21.6v20h-21.6zM1705.5 616h21.6v20h-21.6zM1718.6 608.9h21.6v20h-21.6zM1731.8 680h21.6v20h-21.6zM1744.9 677.2h21.6v20h-21.6zM1758.1 624.6h21.6v20h-21.6zM1771.2 586.2h21.6v20h-21.6zM1784.4 564.8h21.6v20h-21.6zM1797.5 573.4h21.6v20h-21.6zM1810.6 567.7h21.6v20h-21.6zM1823.8 587.6h21.6v20h-21.6zM1836.9 591.9h21.6v20h-21.6zM1850.1 603.2h21.6v20h-21.6zM1863.2 657.3h21.6v20h-21.6zM1876.4 644.5h21.6v20h-21.6zM1889.5 687.2h21.6v20h-21.6zM1902.7 668.7h21.6v20h-21.6zM1915.8 705.6h21.6v20h-21.6zM1929 697.1h21.6v20h-21.6zM1942.1 687.2h21.6v20h-21.6zM1955.3 675.8h21.6v20h-21.6zM1968.4 741.2h21.6v20h-21.6zM1981.6 768.2h21.6v20h-21.6zM1994.7 785.3h21.6v20h-21.6zM2007.9 764h21.6v20h-21.6zM2021 762.5h21.6v20h-21.6zM2034.2 748.3h21.6v20h-21.6zM2047.3 748.3h21.6v20h-21.6zM2060.5 782.5h21.6v20h-21.6zM2073.6 761.1h21.6v20h-21.6zM2086.8 749.7h21.6v20h-21.6zM2099.9 761.1h21.6v20h-21.6zM2113.1 735.5h21.6v20h-21.6zM2126.2 749.7h21.6v20h-21.6zM2139.3 754h21.6v20h-21.6zM2152.5 714.2h21.6v20h-21.6zM2165.6 698.5h21.6v20h-21.6zM2178.8 709.9h21.6v20h-21.6zM2191.9 704.2h21.6v20h-21.6zM2205.1 708.5h21.6v20h-21.6zM2218.2 721.3h21.6v20h-21.6zM2231.4 722.7h21.6v20h-21.6zM2244.5 721.3h21.6v20h-21.6zM2257.7 717h21.6v20h-21.6zM2270.8 709.9h21.6v20h-21.6zM2284 707.1h21.6v20h-21.6zM2297.1 684.3h21.6v20h-21.6z" fill="#004586" stroke="none"/>
<polyline points="164.8,923.3 177.9,873.5 191.1,811 204.2,815.2 217.4,846.5 230.5,795.3 243.7,728.5 256.8,764 270,701.4 283.1,670.1 296.3,782.5 309.4,845.1 322.6,768.3 335.7,806.7 348.9,818.1 362,822.3 375.2,879.9 388.3,803.8 401.5,788.2 414.6,878.5 427.8,887.8 440.9,907.7 454.1,963.2 467.2,919.1 480.4,904.1 493.5,929 506.6,893.5 519.8,902 532.9,853.6 546.1,856.5 559.2,746.9 572.4,836.6 585.5,857.9 598.7,879.2 611.8,914.8 625,860.7 638.1,853.6 651.3,852.9 664.4,816.6 677.6,792.5 690.7,729.9 703.9,729.9 717,727 730.2,683.6 743.3,646.4 756.5,675.8 769.6,700 782.8,725.6 795.9,775.4 809.1,795.3 822.2,782.5 835.3,769.7 848.5,751.8 861.6,772.5 874.8,779 887.9,760.5 901.1,739.8 914.2,675.8 927.4,685.8 940.5,707.1 953.7,775.4 966.8,695.7 980,715.6 993.1,678.7 1006.3,737 1019.4,722.1 1032.6,703.4 1045.7,722.1 1058.9,749.8 1072,823.8 1085.2,835.1 1098.3,837.3 1111.5,827.3 1124.6,798.9 1137.8,704.3 1150.9,705.7 1164,740.5 1177.2,748.4 1190.3,734.1 1203.5,633.1 1216.6,635.3 1229.8,611.8 1242.9,617.5 1256.1,670.1 1269.2,599 1282.4,636.7 1295.5,691.5 1308.7,626.7 1321.8,698.6 1335,704.8 1348.1,698.6 1361.3,739.8 1374.4,739.8 1387.6,749.8 1400.7,744.5 1413.9,761.7 1427,788.2 1440.2,811.4 1453.3,758.3 1466.5,729.9 1479.6,734.9 1492.7,751.2 1505.9,857.9 1519,910.5 1532.2,957.5 1545.3,872.1 1558.5,883.5 1571.6,874 1584.8,907 1597.9,971 1611.1,939 1624.2,845.8 1637.4,910.5 1650.5,883.5 1663.7,929.7 1676.8,964.6 1690,931.9 1703.1,946.1 1716.3,948.9 1729.4,997.3 1742.6,1019.5 1755.7,994.5 1768.9,964.6 1782,964.6 1795.2,902 1808.3,910.5 1821.4,907.7 1834.6,997.3 1847.7,958.2 1860.9,956.6 1874,988.8 1887.2,1000.1 1900.3,985.1 1913.5,1045.7 1926.6,1002.4 1939.8,951.8 1952.9,928 1966.1,929 1979.2,925.5 1992.4,1041 2005.5,950.4 2018.7,982.7 2031.8,978.8 2045,935.4 2058.1,1028.6 2071.3,998.7 2084.4,993 2097.6,1032.3 2110.7,1021.5 2123.9,990.2 2137,970.3 2150.1,1017.2 2163.3,1023.5 2176.4,1022.3 2189.6,975.1 2202.7,958.9 2215.9,960.3 2229,907 2242.2,945.4 2255.3,939 2268.5,933.3 2281.6,885.8 2294.8,898.3 2307.9,878.4" stroke="#ff420e" stroke-width="9"/>
<path d="M164.8 913.6l9.8 9.7l-9.8 9.7l-9.8 -9.7zM177.9 863.8l9.8 9.7l-9.8 9.7l-9.8 -9.7zM191.1 801.3l9.8 9.7l-9.8 9.7l-9.8 -9.7zM204.2 805.5l9.8 9.7l-9.8 9.7l-9.8 -9.7zM217.4 836.8l9.8 9.7l-9.8 9.7l-9.8 -9.7zM230.5 785.6l9.8 9.7l-9.8 9.7l-9.8 -9.7zM243.7 718.8l9.8 9.7l-9.8 9.7l-9.8 -9.7zM256.8 754.3l9.8 9.7l-9.8 9.7l-9.8 -9.7zM270 691.7l9.8 9.7l-9.8 9.7l-9.8 -9.7zM283.1 660.4l9.8 9.7l-9.8 9.7l-9.8 -9.7zM296.3 772.8l9.8 9.7l-9.8 9.7l-9.8 -9.7zM309.4 835.4l9.8 9.7l-9.8 9.7l-9.8 -9.7zM322.6 758.6l9.8 9.7l-9.8 9.7l-9.8 -9.7zM335.7 797l9.8 9.7l-9.8 9.7l-9.8 -9.7zM348.9 808.4l9.8 9.7l-9.8 9.7l-9.8 -9.7zM362 812.6l9.8 9.7l-9.8 9.7l-9.8 -9.7zM375.2 870.2l9.8 9.7l-9.8 9.7l-9.8 -9.7zM388.3 794.1l9.8 9.7l-9.8 9.7l-9.8 -9.7zM401.5 778.5l9.8 9.7l-9.8 9.7l-9.8 -9.7zM414.6 868.8l9.8 9.7l-9.8 9.7l-9.8 -9.7zM427.8 878.1l9.8 9.7l-9.8 9.7l-9.8 -9.7zM440.9 898l9.8 9.7l-9.8 9.7l-9.8 -9.7zM454.1 953.5l9.8 9.7l-9.8 9.7l-9.8 -9.7zM467.2 909.4l9.8 9.7l-9.8 9.7l-9.8 -9.7zM480.4 894.4l9.8 9.7l-9.8 9.7l-9.8 -9.7zM493.5 919.3l9.8 9.7l-9.8 9.7l-9.8 -9.7zM506.6 883.8l9.8 9.7l-9.8 9.7l-9.8 -9.7zM519.8 892.3l9.8 9.7l-9.8 9.7l-9.8 -9.7zM532.9 843.9l9.8 9.7l-9.8 9.7l-9.8 -9.7zM546.1 846.8l9.8 9.7l-9.8 9.7l-9.8 -9.7zM559.2 737.2l9.8 9.7l-9.8 9.7l-9.8 -9.7zM572.4 826.9l9.8 9.7l-9.8 9.7l-9.8 -9.7zM585.5 848.2l9.8 9.7l-9.8 9.7l-9.8 -9.7zM598.7 869.5l9.8 9.7l-9.8 9.7l-9.8 -9.7zM611.8 905.1l9.8 9.7l-9.8 9.7l-9.8 -9.7zM625 851l9.8 9.7l-9.8 9.7l-9.8 -9.7zM638.1 843.9l9.8 9.7l-9.8 9.7l-9.8 -9.7zM651.3 843.2l9.8 9.7l-9.8 9.7l-9.8 -9.7zM664.4 806.9l9.8 9.7l-9.8 9.7l-9.8 -9.7zM677.6 782.8l9.8 9.7l-9.8 9.7l-9.8 -9.7zM690.7 720.2l9.8 9.7l-9.8 9.7l-9.8 -9.7zM703.9 720.2l9.8 9.7l-9.8 9.7l-9.8 -9.7zM717 717.3l9.8 9.7l-9.8 9.7l-9.8 -9.7zM730.2 673.9l9.8 9.7l-9.8 9.7l-9.8 -9.7zM743.3 636.7l9.8 9.7l-9.8 9.7l-9.8 -9.7zM756.5 666.1l9.8 9.7l-9.8 9.7l-9.8 -9.7zM769.6 690.3l9.8 9.7l-9.8 9.7l-9.8 -9.7zM782.8 715.9l9.8 9.7l-9.8 9.7l-9.8 -9.7zM795.9 765.7l9.8 9.7l-9.8 9.7l-9.8 -9.7zM809.1 785.6l9.8 9.7l-9.8 9.7l-9.8 -9.7zM822.2 772.8l9.8 9.7l-9.8 9.7l-9.8 -9.7zM835.3 760l9.8 9.7l-9.8 9.7l-9.8 -9.7zM848.5 742.1l9.8 9.7l-9.8 9.7l-9.8 -9.7zM861.6 762.8l9.8 9.7l-9.8 9.7l-9.8 -9.7zM874.8 769.3l9.8 9.7l-9.8 9.7l-9.8 -9.7zM887.9 750.8l9.8 9.7l-9.8 9.7l-9.8 -9.7zM901.1 730.1l9.8 9.7l-9.8 9.7l-9.8 -9.7zM914.2 666.1l9.8 9.7l-9.8 9.7l-9.8 -9.7zM927.4 676.1l9.8 9.7l-9.8 9.7l-9.8 -9.7zM940.5 697.4l9.8 9.7l-9.8 9.7l-9.8 -9.7zM953.7 765.7l9.8 9.7l-9.8 9.7l-9.8 -9.7zM966.8 686l9.8 9.7l-9.8 9.7l-9.8 -9.7zM980 705.9l9.8 9.7l-9.8 9.7l-9.8 -9.7zM993.1 669l9.8 9.7l-9.8 9.7l-9.8 -9.7zM1006.3 727.3l9.8 9.7l-9.8 9.7l-9.8 -9.7zM1019.4 712.4l9.8 9.7l-9.8 9.7l-9.8 -9.7zM1032.6 693.7l9.8 9.7l-9.8 9.7l-9.8 -9.7zM1045.7 712.4l9.8 9.7l-9.8 9.7l-9.8 -9.7zM1058.9 740.1l9.8 9.7l-9.8 9.7l-9.8 -9.7zM1072 814.1l9.8 9.7l-9.8 9.7l-9.8 -9.7zM1085.2 825.4l9.8 9.7l-9.8 9.7l-9.8 -9.7zM1098.3 827.6l9.8 9.7l-9.8 9.7l-9.8 -9.7zM1111.5 817.6l9.8 9.7l-9.8 9.7l-9.8 -9.7zM1124.6 789.2l9.8 9.7l-9.8 9.7l-9.8 -9.7zM1137.8 694.6l9.8 9.7l-9.8 9.7l-9.8 -9.7zM1150.9 696l9.8 9.7l-9.8 9.7l-9.8 -9.7zM1164 730.8l9.8 9.7l-9.8 9.7l-9.8 -9.7zM1177.2 738.7l9.8 9.7l-9.8 9.7l-9.8 -9.7zM1190.3 724.4l9.8 9.7l-9.8 9.7l-9.8 -9.7zM1203.5 623.4l9.8 9.7l-9.8 9.7l-9.8 -9.7zM1216.6 625.6l9.8 9.7l-9.8 9.7l-9.8 -9.7zM1229.8 602.1l9.8 9.7l-9.8 9.7l-9.8 -9.7zM1242.9 607.8l9.8 9.7l-9.8 9.7l-9.8 -9.7zM1256.1 660.4l9.8 9.7l-9.8 9.7l-9.8 -9.7zM1269.2 589.3l9.8 9.7l-9.8 9.7l-9.8 -9.7zM1282.4 627l9.8 9.7l-9.8 9.7l-9.8 -9.7zM1295.5 681.8l9.8 9.7l-9.8 9.7l-9.8 -9.7zM1308.7 617l9.8 9.7l-9.8 9.7l-9.8 -9.7zM1321.8 688.9l9.8 9.7l-9.8 9.7l-9.8 -9.7zM1335 695.1l9.8 9.7l-9.8 9.7l-9.8 -9.7zM1348.1 688.9l9.8 9.7l-9.8 9.7l-9.8 -9.7zM1361.3 730.1l9.8 9.7l-9.8 9.7l-9.8 -9.7zM1374.4 730.1l9.8 9.7l-9.8 9.7l-9.8 -9.7zM1387.6 740.1l9.8 9.7l-9.8 9.7l-9.8 -9.7zM1400.7 734.8l9.8 9.7l-9.8 9.7l-9.8 -9.7zM1413.9 752l9.8 9.7l-9.8 9.7l-9.8 -9.7zM1427 778.5l9.8 9.7l-9.8 9.7l-9.8 -9.7zM1440.2 801.7l9.8 9.7l-9.8 9.7l-9.8 -9.7zM1453.3 748.6l9.8 9.7l-9.8 9.7l-9.8 -9.7zM1466.5 720.2l9.8 9.7l-9.8 9.7l-9.8 -9.7zM1479.6 725.2l9.8 9.7l-9.8 9.7l-9.8 -9.7zM1492.7 741.5l9.8 9.7l-9.8 9.7l-9.8 -9.7zM1505.9 848.2l9.8 9.7l-9.8 9.7l-9.8 -9.7zM1519 900.8l9.8 9.7l-9.8 9.7l-9.8 -9.7zM1532.2 947.8l9.8 9.7l-9.8 9.7l-9.8 -9.7zM1545.3 862.4l9.8 9.7l-9.8 9.7l-9.8 -9.7zM1558.5 873.8l9.8 9.7l-9.8 9.7l-9.8 -9.7zM1571.6 864.3l9.8 9.7l-9.8 9.7l-9.8 -9.7zM1584.8 897.3l9.8 9.7l-9.8 9.7l-9.8 -9.7zM1597.9 961.3l9.8 9.7l-9.8 9.7l-9.8 -9.7zM1611.1 929.3l9.8 9.7l-9.8 9.7l-9.8 -9.7zM1624.2 836.1l9.8 9.7l-9.8 9.7l-9.8 -9.7zM1637.4 900.8l9.8 9.7l-9.8 9.7l-9.8 -9.7zM1650.5 873.8l9.8 9.7l-9.8 9.7l-9.8 -9.7zM1663.7 920l9.8 9.7l-9.8 9.7l-9.8 -9.7zM1676.8 954.9l9.8 9.7l-9.8 9.7l-9.8 -9.7zM1690 922.2l9.8 9.7l-9.8 9.7l-9.8 -9.7zM1703.1 936.4l9.8 9.7l-9.8 9.7l-9.8 -9.7zM1716.3 939.2l9.8 9.7l-9.8 9.7l-9.8 -9.7zM1729.4 987.6l9.8 9.7l-9.8 9.7l-9.8 -9.7zM1742.6 1009.8l9.8 9.7l-9.8 9.7l-9.8 -9.7zM1755.7 984.8l9.8 9.7l-9.8 9.7l-9.8 -9.7zM1768.9 954.9l9.8 9.7l-9.8 9.7l-9.8 -9.7zM1782 954.9l9.8 9.7l-9.8 9.7l-9.8 -9.7zM1795.2 892.3l9.8 9.7l-9.8 9.7l-9.8 -9.7zM1808.3 900.8l9.8 9.7l-9.8 9.7l-9.8 -9.7zM1821.4 898l9.8 9.7l-9.8 9.7l-9.8 -9.7zM1834.6 987.6l9.8 9.7l-9.8 9.7l-9.8 -9.7zM1847.7 948.5l9.8 9.7l-9.8 9.7l-9.8 -9.7zM1860.9 946.9l9.8 9.7l-9.8 9.7l-9.8 -9.7zM1874 979.1l9.8 9.7l-9.8 9.7l-9.8 -9.7zM1887.2 990.4l9.8 9.7l-9.8 9.7l-9.8 -9.7zM1900.3 975.4l9.8 9.7l-9.8 9.7l-9.8 -9.7zM1913.5 1036l9.8 9.7l-9.8 9.7l-9.8 -9.7zM1926.6 992.7l9.8 9.7l-9.8 9.7l-9.8 -9.7zM1939.8 942.1l9.8 9.7l-9.8 9.7l-9.8 -9.7zM1952.9 918.3l9.8 9.7l-9.8 9.7l-9.8 -9.7zM1966.1 919.3l9.8 9.7l-9.8 9.7l-9.8 -9.7zM1979.2 915.8l9.8 9.7l-9.8 9.7l-9.8 -9.7zM1992.4 1031.3l9.8 9.7l-9.8 9.7l-9.8 -9.7zM2005.5 940.7l9.8 9.7l-9.8 9.7l-9.8 -9.7zM2018.7 973l9.8 9.7l-9.8 9.7l-9.8 -9.7zM2031.8 969.1l9.8 9.7l-9.8 9.7l-9.8 -9.7zM2045 925.7l9.8 9.7l-9.8 9.7l-9.8 -9.7zM2058.1 1018.9l9.8 9.7l-9.8 9.7l-9.8 -9.7zM2071.3 989l9.8 9.7l-9.8 9.7l-9.8 -9.7zM2084.4 983.3l9.8 9.7l-9.8 9.7l-9.8 -9.7zM2097.6 1022.6l9.8 9.7l-9.8 9.7l-9.8 -9.7zM2110.7 1011.8l9.8 9.7l-9.8 9.7l-9.8 -9.7zM2123.9 980.5l9.8 9.7l-9.8 9.7l-9.8 -9.7zM2137 960.6l9.8 9.7l-9.8 9.7l-9.8 -9.7zM2150.1 1007.5l9.8 9.7l-9.8 9.7l-9.8 -9.7zM2163.3 1013.8l9.8 9.7l-9.8 9.7l-9.8 -9.7zM2176.4 1012.6l9.8 9.7l-9.8 9.7l-9.8 -9.7zM2189.6 965.4l9.8 9.7l-9.8 9.7l-9.8 -9.7zM2202.7 949.2l9.8 9.7l-9.8 9.7l-9.8 -9.7zM2215.9 950.6l9.8 9.7l-9.8 9.7l-9.8 -9.7zM2229 897.3l9.8 9.7l-9.8 9.7l-9.8 -9.7zM2242.2 935.7l9.8 9.7l-9.8 9.7l-9.8 -9.7zM2255.3 929.3l9.8 9.7l-9.8 9.7l-9.8 -9.7zM2268.5 923.6l9.8 9.7l-9.8 9.7l-9.8 -9.7zM2281.6 876.1l9.8 9.7l-9.8 9.7l-9.8 -9.7zM2294.8 888.6l9.8 9.7l-9.8 9.7l-9.8 -9.7zM2307.9 868.7l9.8 9.7l-9.8 9.7l-9.8 -9.7z" fill="#ff420e" stroke="none"/>
<path d="M1440.2 309C1444.5 286.9 1448.9 258.1 1453.3 242.7C1457.7 227.2 1462.1 207.1 1466.5 207.1C1470.8 207.1 1475.2 210.1 1479.6 213.3C1484 216.5 1488.4 222 1492.7 233.8C1497.1 245.6 1501.5 337.8 1505.9 367.1C1510.3 396.5 1514.7 412.3 1519 432.9C1523.4 453.6 1527.8 491.6 1532.2 491.6C1536.6 491.6 1541 384.9 1545.3 384.9C1549.7 384.9 1554.1 399.1 1558.5 399.1C1562.9 399.1 1567.3 387.2 1571.6 387.2C1576 387.2 1580.4 410.3 1584.8 428.5C1589.2 446.6 1593.5 508.5 1597.9 508.5C1602.3 508.5 1606.7 488.3 1611.1 468.5C1615.5 448.6 1619.8 352 1624.2 352C1628.6 352 1633 432.9 1637.4 432.9C1641.8 432.9 1646.1 399.1 1650.5 399.1C1654.9 399.1 1659.3 440.4 1663.7 456.9C1668.1 473.5 1672.4 500.5 1676.8 500.5C1681.2 500.5 1685.6 459.6 1690 459.6C1694.4 459.6 1698.7 475.4 1703.1 477.4C1707.5 479.4 1711.9 478.7 1716.3 480.9C1720.6 483.2 1725 528.7 1729.4 541.4C1733.8 554.1 1738.2 569.1 1742.6 569.1C1746.9 569.1 1751.3 549.2 1755.7 537.8C1760.1 526.5 1764.5 500.5 1768.9 500.5C1773.2 500.5 1777.6 500.5 1782 500.5C1786.4 500.5 1790.8 422.3 1795.2 422.3C1799.5 422.3 1803.9 432.9 1808.3 432.9C1812.7 432.9 1817.1 429.4 1821.4 429.4C1825.8 429.4 1830.2 541.4 1834.6 541.4C1839 541.4 1843.4 493.7 1847.7 492.5C1852.1 491.2 1856.5 490.5 1860.9 490.5C1865.3 490.5 1869.7 523.7 1874 530.7C1878.4 537.7 1882.8 544.9 1887.2 544.9C1891.6 544.9 1896 526.1 1900.3 526.1C1904.7 526.1 1909.1 601.9 1913.5 601.9C1917.9 601.9 1922.2 567.2 1926.6 547.8C1931 528.4 1935.4 498 1939.8 484.5C1944.2 471 1948.5 454.8 1952.9 454.8C1957.3 454.8 1961.7 456 1966.1 456C1970.5 456 1974.8 451.6 1979.2 451.6C1983.6 451.6 1988 596 1992.4 596C1996.8 596 2001.1 482.7 2005.5 482.7C2009.9 482.7 2014.3 523.1 2018.7 523.1C2023.1 523.1 2027.4 521.2 2031.8 518.3C2036.2 515.3 2040.6 464 2045 464C2049.3 464 2053.7 580.5 2058.1 580.5C2062.5 580.5 2066.9 547.2 2071.3 543.2C2075.6 539.2 2080 536.1 2084.4 536.1C2088.8 536.1 2093.2 585.1 2097.6 585.1C2101.9 585.1 2106.3 578.3 2110.7 571.6C2115.1 564.9 2119.5 542.6 2123.9 532.5C2128.2 522.4 2132.6 507.6 2137 507.6C2141.4 507.6 2145.8 561.7 2150.1 566.3C2154.5 570.9 2158.9 574.1 2163.3 574.1C2167.7 574.1 2172.1 573.6 2176.4 572.7C2180.8 571.8 2185.2 523.7 2189.6 513.7C2194 503.6 2198.4 493.4 2202.7 493.4C2207.1 493.4 2211.5 495.2 2215.9 495.2C2220.3 495.2 2224.7 428.5 2229 428.5C2233.4 428.5 2237.8 476.5 2242.2 476.5C2246.6 476.5 2250.9 471 2255.3 468.5C2259.7 466 2264.1 465.6 2268.5 461.4C2272.9 457.1 2277.2 402 2281.6 402C2286 402 2290.4 417.6 2294.8 417.6C2299.2 417.6 2303.5 401 2307.9 392.7" stroke="#ffd320" stroke-width="7.2"/>
<path d="M1429.6 306.2h21.2v5.6h-21.2zM1442.7 239.9h21.2v5.6h-21.2zM1455.9 204.3h21.2v5.6h-21.2zM1469 210.5h21.2v5.6h-21.2zM1482.1 231h21.2v5.6h-21.2zM1495.3 364.3h21.2v5.6h-21.2zM1508.4 430.1h21.2v5.6h-21.2zM1521.6 488.8h21.2v5.6h-21.2zM1534.7 382.1h21.2v5.6h-21.2zM1547.9 396.3h21.2v5.6h-21.2zM1561 384.4h21.2v5.6h-21.2zM1574.2 425.7h21.2v5.6h-21.2zM1587.3 505.7h21.2v5.6h-21.2zM1600.5 465.7h21.2v5.6h-21.2zM1613.6 349.2h21.2v5.6h-21.2zM1626.8 430.1h21.2v5.6h-21.2zM1639.9 396.3h21.2v5.6h-21.2zM1653.1 454.1h21.2v5.6h-21.2zM1666.2 497.7h21.2v5.6h-21.2zM1679.4 456.8h21.2v5.6h-21.2zM1692.5 474.6h21.2v5.6h-21.2zM1705.7 478.1h21.2v5.6h-21.2zM1718.8 538.6h21.2v5.6h-21.2zM1732 566.3h21.2v5.6h-21.2zM1745.1 535h21.2v5.6h-21.2zM1758.3 497.7h21.2v5.6h-21.2zM1771.4 497.7h21.2v5.6h-21.2zM1784.6 419.5h21.2v5.6h-21.2zM1797.7 430.1h21.2v5.6h-21.2zM1810.8 426.6h21.2v5.6h-21.2zM1824 538.6h21.2v5.6h-21.2zM1837.1 489.7h21.2v5.6h-21.2zM1850.3 487.7h21.2v5.6h-21.2zM1863.4 527.9h21.2v5.6h-21.2zM1876.6 542.1h21.2v5.6h-21.2zM1889.7 523.3h21.2v5.6h-21.2zM1902.9 599.1h21.2v5.6h-21.2zM1916 545h21.2v5.6h-21.2zM1929.2 481.7h21.2v5.6h-21.2zM1942.3 452h21.2v5.6h-21.2zM1955.5 453.2h21.2v5.6h-21.2zM1968.6 448.8h21.2v5.6h-21.2zM1981.8 593.2h21.2v5.6h-21.2zM1994.9 479.9h21.2v5.6h-21.2zM2008.1 520.3h21.2v5.6h-21.2zM2021.2 515.5h21.2v5.6h-21.2zM2034.4 461.2h21.2v5.6h-21.2zM2047.5 577.7h21.2v5.6h-21.2zM2060.7 540.4h21.2v5.6h-21.2zM2073.8 533.3h21.2v5.6h-21.2zM2087 582.3h21.2v5.6h-21.2zM2100.1 568.8h21.2v5.6h-21.2zM2113.3 529.7h21.2v5.6h-21.2zM2126.4 504.8h21.2v5.6h-21.2zM2139.5 563.5h21.2v5.6h-21.2zM2152.7 571.3h21.2v5.6h-21.2zM2165.8 569.9h21.2v5.6h-21.2zM2179 510.9h21.2v5.6h-21.2zM2192.1 490.6h21.2v5.6h-21.2zM2205.3 492.4h21.2v5.6h-21.2zM2218.4 425.7h21.2v5.6h-21.2zM2231.6 473.7h21.2v5.6h-21.2zM2244.7 465.7h21.2v5.6h-21.2zM2257.9 458.6h21.2v5.6h-21.2zM2271 399.2h21.2v5.6h-21.2zM2284.2 414.8h21.2v5.6h-21.2zM2297.3 389.9h21.2v5.6h-21.2z" fill="#ffd320" stroke="none"/>
</g>
<g id="ylabels" class="ax" text-anchor="end">
<text x="141.5" y="1122.2">120</text>
<text x="141.5" y="1093.8">122</text>
<text x="141.5" y="1065.4">124</text>
<text x="141.5" y="1036.9">126</text>
<text x="141.5" y="1008.5">128</text>
<text x="141.5" y="980">130</text>
<text x="141.5" y="951.6">132</text>
<text x="141.5" y="923.1">134</text>
<text x="141.5" y="894.7">136</text>
<text x="141.5" y="866.2">138</text>
<text x="141.5" y="837.8">140</text>
<text x="141.5" y="809.4">142</text>
<text x="141.5" y="780.9">144</text>
<text x="141.5" y="752.5">146</text>
<text x="141.5" y="724">148</text>
<text x="141.5" y="695.6">150</text>
<text x="141.5" y="667.1">152</text>
<text x="141.5" y="638.7">154</text>
<text x="141.5" y="610.2">156</text>
<text x="141.5" y="581.8">158</text>
<text x="141.5" y="553.3">160</text>
<text x="141.5" y="524.9">162</text>
<text x="141.5" y="496.5">164</text>
<text x="141.5" y="468">166</text>
<text x="141.5" y="439.6">168</text>
<text x="141.5" y="411.1">170</text>
<text x="141.5" y="382.7">172</text>
<text x="141.5" y="354.2">174</text>
<text x="141.5" y="325.8">176</text>
<text x="141.5" y="297.3">178</text>
<text x="141.5" y="268.9">180</text>
<text x="141.5" y="240.5">182</text>
<text x="141.5" y="212">184</text>
<text x="141.5" y="183.6">186</text>
</g>
<g id="xlabels" class="ax" text-anchor="middle">
<text x="162.4" y="1153.2" textLength="96.5" lengthAdjust="spacingAndGlyphs">R4.08.12</text>
<text x="267.6" y="1153.2" textLength="96.5" lengthAdjust="spacingAndGlyphs">R4.10.07</text>
<text x="372.8" y="1153.2" textLength="96.5" lengthAdjust="spacingAndGlyphs">R4.12.03</text>
<text x="478" y="1153.2" textLength="96.5" lengthAdjust="spacingAndGlyphs">R5.01.28</text>
<text x="583.1" y="1153.2" textLength="96.5" lengthAdjust="spacingAndGlyphs">R5.03.25</text>
<text x="688.3" y="1153.2" textLength="96.5" lengthAdjust="spacingAndGlyphs">R5.05.20</text>
<text x="793.5" y="1153.2" textLength="96.5" lengthAdjust="spacingAndGlyphs">R5.07.15</text>
<text x="898.7" y="1153.2" textLength="96.5" lengthAdjust="spacingAndGlyphs">R5.09.09</text>
<text x="1003.9" y="1153.2" textLength="96.5" lengthAdjust="spacingAndGlyphs">R5.11.04</text>
<text x="1109.1" y="1153.2" textLength="96.5" lengthAdjust="spacingAndGlyphs">R5.12.30</text>
<text x="1214.2" y="1153.2" textLength="96.5" lengthAdjust="spacingAndGlyphs">R6.02.24</text>
<text x="1319.4" y="1153.2" textLength="96.5" lengthAdjust="spacingAndGlyphs">R6.04.20</text>
<text x="1424.6" y="1153.2" textLength="96.5" lengthAdjust="spacingAndGlyphs">R6.06.15</text>
<text x="1529.8" y="1153.2" textLength="96.5" lengthAdjust="spacingAndGlyphs">R6.08.10</text>
<text x="1635" y="1153.2" textLength="96.5" lengthAdjust="spacingAndGlyphs">R6.10.05</text>
<text x="1740.2" y="1153.2" textLength="96.5" lengthAdjust="spacingAndGlyphs">R6.11.30</text>
<text x="1845.3" y="1153.2" textLength="96.5" lengthAdjust="spacingAndGlyphs">R7.01.25</text>
<text x="1950.5" y="1153.2" textLength="96.5" lengthAdjust="spacingAndGlyphs">R7.03.22</text>
<text x="2055.7" y="1153.2" textLength="96.5" lengthAdjust="spacingAndGlyphs">R7.05.20</text>
<text x="2160.9" y="1153.2" textLength="96.5" lengthAdjust="spacingAndGlyphs">R7.07.12</text>
<text x="2266.1" y="1153.2" textLength="96.5" lengthAdjust="spacingAndGlyphs">R7.09.06</text>
<text x="215" y="1179.4" textLength="96.5" lengthAdjust="spacingAndGlyphs">R4.09.09</text>
<text x="320.2" y="1179.4" textLength="96.5" lengthAdjust="spacingAndGlyphs">R4.11.05</text>
<text x="425.4" y="1179.4" textLength="96.5" lengthAdjust="spacingAndGlyphs">R4.12.31</text>
<text x="530.5" y="1179.4" textLength="96.5" lengthAdjust="spacingAndGlyphs">R5.02.25</text>
<text x="635.7" y="1179.4" textLength="96.5" lengthAdjust="spacingAndGlyphs">R5.04.22</text>
<text x="740.9" y="1179.4" textLength="96.5" lengthAdjust="spacingAndGlyphs">R5.06.17</text>
<text x="846.1" y="1179.4" textLength="96.5" lengthAdjust="spacingAndGlyphs">R5.08.12</text>
<text x="951.3" y="1179.4" textLength="96.5" lengthAdjust="spacingAndGlyphs">R5.10.07</text>
<text x="1056.5" y="1179.4" textLength="96.5" lengthAdjust="spacingAndGlyphs">R5.12.02</text>
<text x="1161.6" y="1179.4" textLength="96.5" lengthAdjust="spacingAndGlyphs">R6.01.27</text>
<text x="1266.8" y="1179.4" textLength="96.5" lengthAdjust="spacingAndGlyphs">R6.03.23</text>
<text x="1372" y="1179.4" textLength="96.5" lengthAdjust="spacingAndGlyphs">R6.05.18</text>
<text x="1477.2" y="1179.4" textLength="96.5" lengthAdjust="spacingAndGlyphs">R6.07.13</text>
<text x="1582.4" y="1179.4" textLength="96.5" lengthAdjust="spacingAndGlyphs">R6.09.07</text>
<text x="1687.6" y="1179.4" textLength="96.5" lengthAdjust="spacingAndGlyphs">R6.11.02</text>
<text x="1792.8" y="1179.4" textLength="96.5" lengthAdjust="spacingAndGlyphs">R6.12.28</text>
<text x="1897.9" y="1179.4" textLength="96.5" lengthAdjust="spacingAndGlyphs">R7.02.22</text>
<text x="2003.1" y="1179.4" textLength="96.5" lengthAdjust="spacingAndGlyphs">R7.04.19</text>
<text x="2108.3" y="1179.4" textLength="96.5" lengthAdjust="spacingAndGlyphs">R7.06.14</text>
<text x="2213.5" y="1179.4" textLength="96.5" lengthAdjust="spacingAndGlyphs">R7.08.09</text>
</g>
<g id="title">
<title>①ドル円 &amp; かぶこ指数（週末刻み） かぶこ指数 X ＝日経 225/(S&amp;P500 × X)× 100</title>
<text class="tt" x="783" y="97.6">①</text>
<text class="tt" x="845" y="97.6" textLength="150" lengthAdjust="spacing">ドル円</text>
<text class="tt" x="1057" y="97.6" textLength="265" lengthAdjust="spacing">かぶこ指数</text>
<text class="tt" x="1305" y="97.6" textLength="320" lengthAdjust="spacing">（週末刻み）</text>
<text class="tt" x="705" y="151.6" textLength="265" lengthAdjust="spacing">かぶこ指数</text>
<text class="tt" x="1029" y="151.6" textLength="165" lengthAdjust="spacing">＝日経</text>
<text class="tt" x="1012" y="97.6">&amp;</text>
<text class="tt" x="986" y="151.6">X</text>
<text class="tt" x="1206.5" y="151.6" textLength="88" lengthAdjust="spacing">225</text>
<text class="tt" x="1297" y="151.6">/</text>
<text class="tt" x="1321.5" y="151.6">(</text>
<text class="tt" x="1340.5" y="151.6" textLength="97" lengthAdjust="spacing">S&amp;P</text>
<text class="tt" x="1442" y="151.6" textLength="85" lengthAdjust="spacing">500</text>
<path d="M1543.5 121.5l20 22m0 -22l-20 22M1645.5 121.5l20.5 22m0 -22l-20.5 22" stroke="#000" stroke-width="3.2" fill="none"/>
<text class="tt" x="1583" y="151.6" textLength="48" lengthAdjust="spacing">X)</text>
<text class="tt" x="1688" y="151.6" textLength="86" lengthAdjust="spacing">100</text>
</g>
<g id="legend">
<rect x="1820.2" y="41.5" width="423.2" height="110.3" fill="#6e6e6e"/>
<rect x="1821.6" y="40.9" width="421.2" height="108.4" fill="#d9d9d9" stroke="#111" stroke-width="1.8"/>
<path d="M1923 61.4H1985" stroke="#004586" stroke-width="4.6"/>
<rect x="1944.7" y="52" width="18.7" height="18.3" fill="#004586"/>
<path d="M1923 95.5H1985" stroke="#ff420e" stroke-width="5"/>
<path d="M1954 86.6l6.8 8.9l-6.8 8.9l-6.8 -8.9z" fill="#ff420e"/>
<path d="M1923 128.6H1985" stroke="#ffd320" stroke-width="4.8"/>
<rect x="1944.7" y="125.5" width="18.7" height="6.2" fill="#ffd320"/>
<title>為替 / かぶこ指数 5 / かぶこ指数 4</title>
<text class="lg" x="1992" y="70.5" textLength="50" lengthAdjust="spacing">為替</text>
<text class="lg" x="1992" y="103.8" textLength="126" lengthAdjust="spacing">かぶこ指数</text>
<text class="lg" x="1992" y="136.9" textLength="126" lengthAdjust="spacing">かぶこ指数</text>
<text class="lg" x="2125" y="103.8">5</text>
<text class="lg" x="2124.6" y="136.9">4</text>
</g>
<g id="logo">
<defs>
<linearGradient id="lgA" x1="0" y1="0" x2="0" y2="1"><stop offset="0" stop-color="#f6fcfd"/><stop offset="1" stop-color="#a9deea"/></linearGradient>
<linearGradient id="lgB" x1="0" y1="0" x2="0.3" y2="1"><stop offset="0" stop-color="#9ad9e6"/><stop offset="0.45" stop-color="#5ec1d7"/><stop offset="1" stop-color="#3fb0cb"/></linearGradient>
<linearGradient id="lgR" x1="0" y1="1" x2="1" y2="0"><stop offset="0" stop-color="#8a2340"/><stop offset="0.35" stop-color="#d8352e"/><stop offset="1" stop-color="#ee4034"/></linearGradient>
<clipPath id="lgClip"><rect x="95" y="100" width="962" height="962"/></clipPath>
</defs>
<rect x="181" y="166" width="172" height="175.5" fill="#fff"/>
<path d="M354 166V341.5" stroke="#222" stroke-width="2.2"/>
<g transform="translate(170,160) scale(0.15444)">
<rect x="95" y="100" width="962" height="962" fill="url(#lgA)"/>
<path d="M95 885L1057 85V1062H95Z" fill="url(#lgB)" clip-path="url(#lgClip)"/>
<path d="M100 872L985 138" stroke="#93d77e" stroke-width="15" fill="none"/>
<path d="M1022 98L925 122L1002 196Z" fill="#8fd67c"/>
<path d="M75 1137L912 322L880 300L1052 213L1036 428L1003 398Z" fill="url(#lgR)" stroke="#7a2038" stroke-width="7" stroke-linejoin="round"/>
<!-- tail -->
<circle cx="410" cy="955" r="42" fill="#eceff2" stroke="#5c6b80" stroke-width="12"/>
<circle cx="455" cy="875" r="36" fill="#f4f5f7" stroke="#5c6b80" stroke-width="10"/>
<!-- legs -->
<ellipse cx="535" cy="985" rx="50" ry="62" fill="#e4e4ea" stroke="#6a6476" stroke-width="9"/>
<path d="M622 1000Q615 1085 640 1110Q672 1118 688 1092Q690 1040 700 985Z" fill="#e9e1ea" stroke="#6a6476" stroke-width="9"/>
<!-- body -->
<ellipse cx="625" cy="880" rx="112" ry="150" transform="rotate(12 625 880)" fill="#fbfbfd" stroke="#857b8c" stroke-width="9"/>
<!-- raised arm -->
<path d="M735 720Q800 700 800 620Q830 590 860 620Q880 680 800 790Q760 820 735 790Z" fill="#f3eef2" stroke="#6f6678" stroke-width="9"/>
<circle cx="832" cy="645" r="24" fill="#f0a9b4"/>
<!-- ears -->
<path d="M345 447L480 470L405 625Z" fill="#b9b3be" stroke="#6a5f6e" stroke-width="10" stroke-linejoin="round"/>
<path d="M372 478L455 492L410 585Z" fill="#eaa9a6"/>
<path d="M702 330L640 440L770 520Z" fill="#b9b3be" stroke="#6a5f6e" stroke-width="10" stroke-linejoin="round"/>
<path d="M703 372L672 440L745 485Z" fill="#eaa9a6"/>
<!-- head -->
<ellipse cx="590" cy="615" rx="200" ry="168" transform="rotate(-18 590 615)" fill="#dcdfe4" stroke="#7a7282" stroke-width="9"/>
<ellipse cx="610" cy="690" rx="120" ry="80" transform="rotate(-18 610 690)" fill="#fbfbfc"/>
<path d="M520 470L545 540M560 455L575 525M600 450L605 515" stroke="#a9a6b2" stroke-width="10" fill="none"/>
<!-- bow -->
<ellipse cx="528" cy="438" rx="48" ry="36" transform="rotate(15 528 438)" fill="#b7a8d8" stroke="#6f6394" stroke-width="8"/>
<ellipse cx="618" cy="428" rx="48" ry="36" transform="rotate(-20 618 428)" fill="#b7a8d8" stroke="#6f6394" stroke-width="8"/>
<circle cx="572" cy="440" r="20" fill="#9f8fc6" stroke="#6f6394" stroke-width="6"/>
<!-- eyes -->
<ellipse cx="505" cy="645" rx="42" ry="47" fill="#34486f" stroke="#222b40" stroke-width="6"/>
<ellipse cx="682" cy="592" rx="40" ry="47" fill="#34486f" stroke="#222b40" stroke-width="6"/>
<circle cx="492" cy="628" r="14" fill="#fff"/><circle cx="668" cy="575" r="14" fill="#fff"/>
<ellipse cx="512" cy="662" rx="20" ry="16" fill="#7fa6d6"/><ellipse cx="690" cy="610" rx="18" ry="16" fill="#7fa6d6"/>
<path d="M598 662L632 652L620 690Z" fill="#e58f9c"/>
<path d="M600 705Q622 722 640 696" stroke="#7a5a66" stroke-width="7" fill="none"/>
<ellipse cx="455" cy="720" rx="26" ry="16" fill="#f3c3cb"/><ellipse cx="735" cy="655" rx="24" ry="16" fill="#f3c3cb"/>
<!-- Kabuko -->
<text x="0" y="0" transform="translate(205 312) rotate(-9.5)" font-size="182" font-weight="bold" stroke="#54450f" stroke-width="40" stroke-linejoin="round" textLength="650" lengthAdjust="spacingAndGlyphs" style="font-family:'Liberation Sans',sans-serif;fill:#54450f">Kabuko</text>
<text x="0" y="0" transform="translate(205 312) rotate(-9.5)" font-size="182" font-weight="bold" stroke="#f7e04e" stroke-width="13" stroke-linejoin="round" textLength="650" lengthAdjust="spacingAndGlyphs" style="font-family:'Liberation Sans',sans-serif;fill:#f7e04e">Kabuko</text>
</g>
<rect x="355.2" y="214.3" width="207.5" height="79.4" fill="#fff"/>
<text x="357.4" y="260.2" font-size="24.6" textLength="123" lengthAdjust="spacing">Author by</text>
<text x="487" y="260.2" font-size="21" textLength="61" lengthAdjust="spacing">かぶこ</text>
</g>

</g>
</svg></body></html>
